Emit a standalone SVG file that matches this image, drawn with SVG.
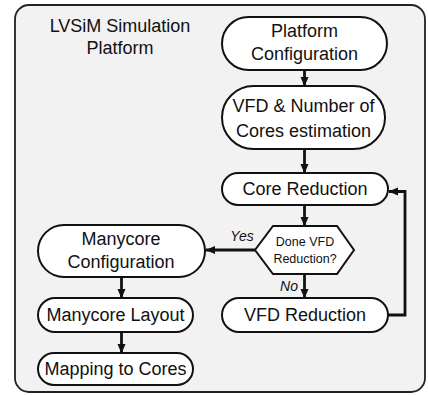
<svg xmlns="http://www.w3.org/2000/svg" width="428" height="395" viewBox="0 0 428 395">
  <style>
    .frame { fill: #f2f2f2; stroke: #222; stroke-width: 1.8; }
    .node { fill: #fff; stroke: #111; stroke-width: 2; }
    .lbl { font-family: "Liberation Sans", Arial, sans-serif; font-size: 18px; fill: #111; text-anchor: middle; }
    .small { font-size: 12.5px; }
    .tag { font-family: "Liberation Sans", Arial, sans-serif; font-size: 14px; font-style: italic; fill: #111; text-anchor: middle; }
    .edge { fill: none; stroke: #111; stroke-width: 2.8; marker-end: url(#head); }
  </style>
  <defs>
    <marker id="head" markerUnits="userSpaceOnUse" markerWidth="10" markerHeight="10" viewBox="0 0 10 10" refX="9" refY="5" orient="auto">
      <path d="M0,1 L9.5,5 L0,9 Z" fill="#111"/>
    </marker>
  </defs>

  <!-- outer platform frame -->
  <rect class="frame" x="15" y="5" width="410" height="387" rx="14"/>
  <text class="lbl" x="120" y="32">LVSiM Simulation</text>
  <text class="lbl" x="120" y="54">Platform</text>

  <g id="platform-config">
    <rect class="node" x="222" y="17" width="165" height="53" rx="26.5"/>
    <text class="lbl" x="304.5" y="37">Platform</text>
    <text class="lbl" x="304.5" y="60">Configuration</text>
  </g>

  <g id="vfd-estimation">
    <rect class="node" x="222" y="86" width="163" height="63" rx="31.5"/>
    <text class="lbl" x="303.5" y="112">VFD &amp; Number of</text>
    <text class="lbl" x="303.5" y="137">Cores estimation</text>
  </g>

  <g id="core-reduction">
    <rect class="node" x="222" y="173" width="166" height="32" rx="16"/>
    <text class="lbl" x="305" y="195">Core Reduction</text>
  </g>

  <g id="done-check">
    <polygon class="node" points="255,250 273,226 337,226 354,250 337,274 273,274"/>
    <text class="lbl small" x="305" y="246">Done VFD</text>
    <text class="lbl small" x="305" y="263">Reduction?</text>
  </g>

  <g id="vfd-reduction">
    <rect class="node" x="222" y="298" width="166" height="34" rx="17"/>
    <text class="lbl" x="305" y="321">VFD Reduction</text>
  </g>

  <g id="manycore-config">
    <rect class="node" x="38" y="225" width="167" height="52" rx="26"/>
    <text class="lbl" x="121" y="245">Manycore</text>
    <text class="lbl" x="121" y="268">Configuration</text>
  </g>

  <g id="manycore-layout">
    <rect class="node" x="38" y="298" width="155" height="34" rx="17"/>
    <text class="lbl" x="115.5" y="321">Manycore Layout</text>
  </g>

  <g id="mapping">
    <rect class="node" x="38" y="353" width="155" height="32" rx="16"/>
    <text class="lbl" x="115.5" y="375">Mapping to Cores</text>
  </g>

  <g id="connectors">
    <path class="edge" d="M304.5,70 V86"/>
    <path class="edge" d="M304.5,149 V173"/>
    <path class="edge" d="M304.5,205 V226"/>
    <path class="edge" d="M255,250 H206"/>
    <path class="edge" d="M304.5,274 V298"/>
    <path class="edge" d="M388,315 H405 V191.5 H389"/>
    <path class="edge" d="M121.5,277 V298"/>
    <path class="edge" d="M121.5,332 V353"/>
    <text class="tag" x="242" y="241">Yes</text>
    <text class="tag" x="289" y="291">No</text>
  </g>
</svg>
